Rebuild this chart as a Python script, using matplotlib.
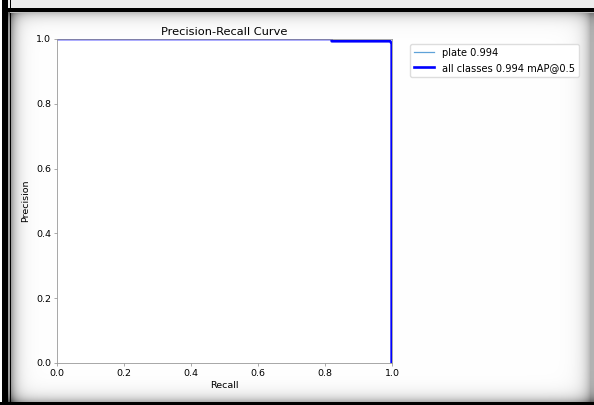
import matplotlib
matplotlib.use('Agg')
import matplotlib.pyplot as plt
import numpy as np

# precision / recall points of the detector
recall = [0.0, 0.82, 0.82, 0.995, 0.999, 0.999]
precision = [1.0, 1.0, 0.993, 0.993, 0.985, 0.0]
class_name = 'plate'
class_ap = 0.994
map50 = 0.994

W, H = 594, 405


def frame_image(w, h):
    """White page with a black border and a soft inner shadow."""
    img = np.ones((h, w, 3))
    x0, x1, y0, y1 = 11, w - 4, 13, h - 3
    xs = np.arange(w)[None, :]
    ys = np.arange(h)[:, None]
    dl = np.clip(xs - x0, 0, None)
    dr = np.clip(x1 - xs, 0, None)
    dt = np.clip(ys - y0, 0, None)
    db = np.clip(y1 - ys, 0, None)
    shade = (0.38 * np.exp(-dl / 6.0) + 0.22 * np.exp(-dt / 6.0)
             + 0.3 * np.exp(-dr / 7.0) + 0.35 * np.exp(-db / 6.0))
    img *= np.clip(1 - shade, 0, 1)[..., None]
    img[:y0 - 5, :] = 0.93
    img[:, :2] = 1.0
    img[:, 2:8] = 0.0          # thick left bar
    img[:, 10:11] = 0.0        # thin left line
    img[8:12, 2:] = 0.0        # top bar
    img[h - 3:, :] = 0.0       # bottom line
    img[y0 - 1:y0, 10:] = 0.75
    return img


fig = plt.figure(figsize=(W / 100, H / 100), dpi=100)
fig.figimage(frame_image(W, H), xo=0, yo=0, origin='upper', zorder=0)

ax = fig.add_axes([57 / W, 1 - 363 / H, 335 / W, 324 / H], zorder=2)
ax.set_facecolor('white')

ax.plot(recall, precision, linewidth=0.9, color='#5fa2d8',
        label=f'{class_name} {class_ap:.3f}')
ax.plot(recall, precision, linewidth=1.9, color='blue',
        label=f'all classes {map50:.3f} mAP@0.5')

ax.set_xlim(0, 1)
ax.set_ylim(0, 1)
ax.set_xlabel('Recall', fontsize=6.8, labelpad=2)
ax.set_ylabel('Precision', fontsize=6.8, labelpad=4)
ax.set_title('Precision-Recall Curve', fontsize=8.2, pad=3)
ax.tick_params(labelsize=6.8, length=2.2, width=0.5, color='#888888', pad=2)
for s in ax.spines.values():
    s.set_color('#999999')
    s.set_linewidth(0.6)

ax.legend(bbox_to_anchor=(1.04, 1), loc='upper left', fontsize=7.1,
          framealpha=1.0, edgecolor='#dddddd', fancybox=True)

fig.savefig('out.png', dpi=100)
